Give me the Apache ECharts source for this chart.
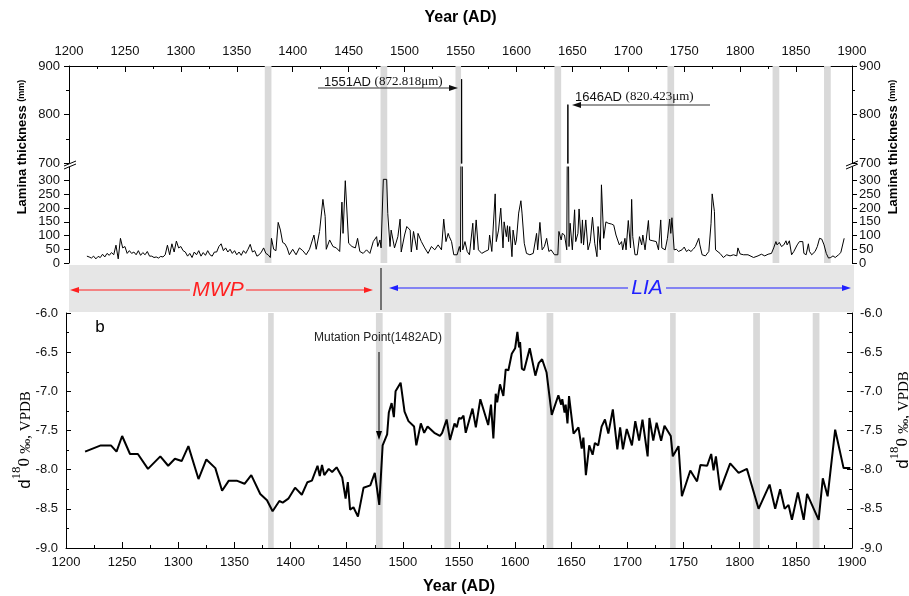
<!DOCTYPE html>
<html>
<head>
<meta charset="utf-8">
<script src="https://cdn.jsdelivr.net/npm/echarts@6/dist/echarts.min.js"></script>
<style>
html, body { margin: 0; padding: 0; background: #fff; }
#chart { width: 909px; height: 596px; }
</style>
</head>
<body>
<div id="chart"></div>
<script>
// lamina thickness (um) by year AD
const laminaYears = [
  1216, 1218, 1220, 1222, 1224, 1226, 1228, 1230, 1232, 1234, 1236, 1238, 1240, 1242, 1244, 1246, 1248, 1250,
  1252, 1254, 1256, 1258, 1260, 1262, 1264, 1266, 1268, 1270, 1272, 1274, 1276, 1278, 1280, 1282, 1284, 1286,
  1288, 1290, 1292, 1294, 1296, 1298, 1300, 1302, 1304, 1306, 1308, 1310, 1312, 1314, 1316, 1318, 1320, 1322,
  1324, 1326, 1328, 1330, 1332, 1334, 1336, 1338, 1340, 1342, 1344, 1346, 1348, 1350, 1352, 1354, 1356, 1358,
  1360, 1362, 1364, 1366, 1368, 1370, 1372, 1374, 1376, 1378, 1380, 1381, 1383, 1385, 1387, 1389, 1391, 1393,
  1395, 1397, 1400, 1403, 1406, 1409, 1412, 1415, 1419, 1421, 1424, 1427, 1429, 1430, 1433, 1436, 1439, 1442,
  1444, 1445, 1447, 1450, 1453, 1456, 1458, 1460, 1463, 1466, 1469, 1472, 1475, 1476, 1478, 1479, 1481, 1484,
  1485, 1487, 1488, 1491, 1494, 1496, 1497, 1500, 1502, 1505, 1506, 1508, 1511, 1512, 1515, 1518, 1521, 1524,
  1527, 1530, 1533, 1535, 1537, 1539, 1540, 1542, 1544, 1547, 1549, 1550, 1551, 1552, 1554, 1556, 1558, 1561,
  1562, 1564, 1566, 1569, 1572, 1575, 1576, 1578, 1581, 1582, 1584, 1586, 1588, 1589, 1591, 1592, 1593, 1594,
  1596, 1597, 1599, 1600, 1602, 1604, 1605, 1607, 1609, 1612, 1615, 1618, 1619, 1621, 1623, 1625, 1627, 1629,
  1631, 1634, 1637, 1638, 1640, 1641, 1643, 1645, 1646, 1647, 1648, 1650, 1652, 1653, 1655, 1656, 1658, 1659,
  1660, 1662, 1664, 1666, 1668, 1670, 1672, 1673, 1675, 1676, 1678, 1680, 1682, 1685, 1687, 1689, 1692, 1694,
  1695, 1697, 1698, 1700, 1702, 1703, 1704, 1706, 1708, 1710, 1712, 1713, 1715, 1716, 1718, 1719, 1722, 1725,
  1727, 1729, 1730, 1733, 1735, 1737, 1738, 1739, 1741, 1743, 1745, 1748, 1750, 1752, 1754, 1756, 1758, 1760,
  1763, 1764, 1766, 1769, 1772, 1774, 1775, 1777, 1778, 1782, 1785, 1788, 1791, 1794, 1797, 1798, 1800, 1803,
  1807, 1812, 1816, 1819, 1822, 1825, 1828, 1830, 1832, 1833, 1835, 1837, 1839, 1841, 1842, 1844, 1846, 1848,
  1851, 1853, 1854, 1856, 1857, 1859, 1861, 1862, 1864, 1867, 1869, 1871, 1873, 1875, 1877, 1879, 1881, 1883,
  1885, 1888, 1890, 1891, 1893
];
const laminaValues = [
  25, 22, 18, 25, 15, 24, 20, 32, 22, 35, 28, 38, 30, 65, 15, 90, 55, 60,
  35, 45, 35, 40, 30, 45, 28, 38, 30, 42, 25, 25, 20, 22, 18, 24, 22, 30,
  65, 30, 70, 40, 80, 55, 60, 45, 40, 25, 35, 20, 40, 30, 45, 25, 38, 28,
  45, 30, 25, 40, 40, 60, 70, 45, 55, 40, 50, 35, 45, 30, 40, 28, 45, 35,
  50, 68, 40, 45, 25, 30, 40, 55, 35, 30, 20, 90, 50, 45, 148, 120, 75, 70,
  55, 30, 50, 30, 55, 45, 30, 50, 102, 50, 115, 232, 170, 50, 84, 60, 55, 42,
  222, 108, 300, 72, 60, 55, 90, 42, 35, 48, 35, 78, 96, 60, 84, 55, 305, 305,
  180, 60, 120, 55, 96, 160, 40, 102, 133, 120, 40, 115, 48, 108, 78, 55, 35, 60,
  48, 66, 48, 160, 78, 108, 96, 78, 30, 30, 60, 40, 872.818, 48, 78, 42, 30, 145,
  48, 157, 48, 35, 42, 48, 102, 42, 252, 78, 120, 200, 55, 150, 96, 136, 78, 133,
  23, 120, 66, 84, 182, 227, 182, 72, 35, 30, 35, 108, 48, 148, 48, 60, 90, 42,
  48, 30, 30, 115, 84, 108, 102, 48, 820.423, 60, 145, 48, 194, 78, 108, 197, 72, 157,
  66, 157, 48, 78, 167, 72, 23, 133, 48, 285, 90, 150, 145, 142, 138, 102, 66, 78,
  48, 90, 48, 155, 55, 232, 96, 30, 30, 96, 66, 102, 48, 84, 155, 84, 81, 78,
  48, 157, 55, 48, 90, 160, 108, 165, 48, 50, 42, 48, 58, 42, 48, 42, 50, 60,
  90, 66, 30, 26, 42, 145, 252, 188, 48, 35, 20, 30, 26, 30, 26, 55, 33, 30,
  30, 20, 26, 32, 26, 32, 35, 55, 78, 66, 75, 60, 66, 81, 66, 81, 30, 42,
  66, 78, 72, 78, 35, 30, 70, 42, 30, 42, 60, 90, 87, 66, 35, 18, 20, 26,
  20, 30, 38, 35, 90
];

// d18O (permil, VPDB) by year AD
const isoYears = [
  1217, 1231, 1240, 1245, 1250, 1257, 1264, 1273, 1284, 1291, 1297, 1303, 1309, 1318, 1325, 1333, 1339, 1345,
  1352, 1359, 1365, 1373, 1379, 1384, 1390, 1393, 1398, 1404, 1410, 1415, 1419, 1424, 1426, 1428, 1430, 1434,
  1437, 1441, 1446, 1447.5, 1449, 1451, 1453, 1456, 1460, 1465, 1471, 1475, 1479, 1482, 1484, 1486, 1487.5, 1490,
  1492, 1493.5, 1498, 1501.5, 1503, 1505, 1510, 1512, 1516, 1519, 1522, 1528, 1533, 1535, 1539, 1542, 1546, 1548,
  1550, 1552, 1554, 1556, 1562, 1565, 1569, 1576, 1578.5, 1580.6, 1582.7, 1584, 1586.5, 1589.5, 1591.6, 1594, 1597, 1600,
  1602, 1603.5, 1604.4, 1606, 1608, 1613, 1618, 1621, 1624, 1628, 1632.6, 1638.5, 1641, 1642, 1644, 1645, 1646.6, 1648,
  1652, 1656.4, 1659.3, 1660.8, 1663, 1666, 1669, 1671, 1674, 1677, 1680, 1683, 1687, 1691, 1693.5, 1696, 1699.4, 1704,
  1707, 1710.4, 1713.4, 1718, 1719.6, 1723, 1726, 1730, 1733, 1738.6, 1740.4, 1745.5, 1748.5, 1756, 1762, 1765, 1771, 1774.6,
  1776.7, 1778.8, 1782.6, 1791.5, 1799, 1806.4, 1816.8, 1826.6, 1831.6, 1836, 1840, 1843.5, 1846.5, 1851.8, 1857, 1860, 1870.3, 1874,
  1878.3, 1885, 1892.5, 1898.5
];
const isoValues = [
  -7.77, -7.69, -7.69, -7.77, -7.57, -7.80, -7.80, -7.99, -7.83, -7.95, -7.86, -7.89, -7.70, -8.12, -7.87, -7.98, -8.27, -8.14,
  -8.14, -8.18, -8.07, -8.31, -8.39, -8.53, -8.40, -8.42, -8.37, -8.23, -8.32, -8.16, -8.14, -7.95, -8.08, -7.94, -8.07, -7.99,
  -8.03, -7.97, -8.10, -8.12, -8.37, -8.16, -8.51, -8.48, -8.60, -8.23, -8.20, -8.04, -8.45, -7.69, -7.62, -7.55, -7.27, -7.15,
  -7.33, -7.00, -6.89, -7.26, -7.27, -7.38, -7.45, -7.69, -7.41, -7.53, -7.45, -7.53, -7.57, -7.53, -7.36, -7.62, -7.41, -7.46,
  -7.34, -7.35, -7.31, -7.53, -7.22, -7.46, -7.10, -7.43, -7.17, -7.60, -7.03, -7.14, -6.91, -7.06, -6.72, -6.73, -6.52, -6.45,
  -6.24, -6.44, -6.37, -6.71, -6.73, -6.45, -6.80, -6.64, -6.59, -6.76, -7.30, -7.05, -7.17, -7.10, -7.27, -7.17, -7.41, -7.06,
  -7.54, -7.46, -7.73, -7.59, -8.07, -7.69, -7.81, -7.66, -7.69, -7.45, -7.36, -7.54, -7.23, -7.74, -7.46, -7.74, -7.48, -7.69,
  -7.38, -7.63, -7.36, -7.83, -7.34, -7.63, -7.40, -7.63, -7.44, -7.57, -7.83, -7.70, -8.34, -8.01, -8.15, -7.94, -7.95, -7.80,
  -8.01, -7.83, -8.26, -7.92, -8.04, -7.99, -8.50, -8.19, -8.50, -8.25, -8.50, -8.45, -8.64, -8.29, -8.64, -8.31, -8.64, -8.11,
  -8.34, -7.49, -7.98, -7.98
];

// shaded year intervals
const topBands = [[1375, 1381], [1478.5, 1484.5], [1545.5, 1550.5], [1634, 1640], [1735, 1741], [1829, 1835], [1875, 1881]];
const bottomBands = [[1380, 1385], [1476, 1482], [1537, 1543], [1628, 1634], [1738, 1743], [1812, 1818], [1865, 1871]];

const sans = "Arial, 'Liberation Sans', sans-serif";
const serif = "'Times New Roman', 'Liberation Serif', serif";

const laminaData = laminaYears.map((y, i) => [y, laminaValues[i]]);
const isoData = isoYears.map((y, i) => [y, isoValues[i]]);

const bandArea = (bands) => ({
  silent: true,
  itemStyle: { color: "#d9d9d9" },
  data: bands.map((b) => [{ xAxis: b[0] }, { xAxis: b[1] }]),
});

const yearAxis = (gridIndex, position, extra) =>
  Object.assign(
    {
      type: "value",
      gridIndex: gridIndex,
      position: position,
      min: 1200,
      max: 1900,
      interval: 50,
      axisLine: { lineStyle: { color: "#000", width: 1 } },
      axisTick: { inside: true, length: 6, lineStyle: { color: "#000" } },
      minorTick: { show: true, splitNumber: 2, length: 3, lineStyle: { color: "#000" } },
      axisLabel: { fontFamily: sans, fontSize: 13, color: "#111", margin: 8, formatter: (v) => String(v) },
      splitLine: { show: false },
    },
    extra
  );

const valueAxis = (gridIndex, position, min, max, interval, inside, extra) =>
  Object.assign(
    {
      type: "value",
      gridIndex: gridIndex,
      position: position,
      min: min,
      max: max,
      interval: interval,
      axisLine: { show: true, onZero: false, lineStyle: { color: "#000", width: 1 } },
      axisTick: { show: true, inside: inside, length: 5, lineStyle: { color: "#000" } },
      minorTick: { show: true, splitNumber: 2, length: 3, lineStyle: { color: "#000" } },
      axisLabel: { fontFamily: sans, fontSize: 13, color: "#111", margin: 7 },
      splitLine: { show: false },
    },
    extra
  );

const arrowHead = (tx, ty, dir, color) => {
  // small triangle pointing in dir: 'l','r','d'
  let pts;
  if (dir === "r") pts = [[tx, ty], [tx - 9, ty - 3], [tx - 9, ty + 3]];
  else if (dir === "l") pts = [[tx, ty], [tx + 9, ty - 3], [tx + 9, ty + 3]];
  else pts = [[tx, ty], [tx - 3, ty - 9], [tx + 3, ty - 9]];
  return { type: "polygon", shape: { points: pts }, style: { fill: color }, z: 20 };
};
const seg = (x1, y1, x2, y2, color, w) => ({
  type: "line",
  shape: { x1: x1, y1: y1, x2: x2, y2: y2 },
  style: { stroke: color, lineWidth: w || 1 },
  z: 20,
});

const isoTitle = {
  text: "{a|d}{s|18}{b|0 }{c|‰, VPDB}",
  textAlign: "center",
  textVerticalAlign: "middle",
  rich: {
    a: { fontFamily: sans, fontSize: 17, fill: "#000", verticalAlign: "bottom" },
    s: { fontFamily: serif, fontSize: 13, fill: "#000", verticalAlign: "bottom", padding: [0, 0, 10, 0] },
    b: { fontFamily: serif, fontSize: 17, fill: "#000", verticalAlign: "bottom" },
    c: { fontFamily: serif, fontSize: 15, fill: "#000", verticalAlign: "bottom" },
  },
};
const laminaTitle = {
  text: "{a|Lamina thickness }{u|(mm)}",
  textAlign: "center",
  textVerticalAlign: "middle",
  rich: {
    a: { fontFamily: sans, fontSize: 13, fontWeight: "bold", fill: "#000" },
    u: { fontFamily: sans, fontSize: 9, fontWeight: "bold", fill: "#000" },
  },
};

const chart = echarts.init(document.getElementById("chart"));

const option = {
  animation: false,
  backgroundColor: "#fff",
  grid: [
    { left: 69, right: 57, top: 66, height: 97 },
    { left: 69, right: 57, top: 167, height: 96 },
    { left: 66, right: 57, top: 313, height: 239 },
    { left: 69, right: 57, top: 163, height: 4 },
  ],
  xAxis: [
    yearAxis(0, "top", {
      name: "Year (AD)",
      nameLocation: "middle",
      nameGap: 40,
      nameTextStyle: { fontFamily: sans, fontSize: 16, fontWeight: "bold", color: "#000" },
    }),
    yearAxis(1, "bottom", { show: false }),
    yearAxis(2, "bottom", {
      name: "Year (AD)",
      nameLocation: "middle",
      nameGap: 31,
      nameTextStyle: { fontFamily: sans, fontSize: 16, fontWeight: "bold", color: "#000" },
    }),
    yearAxis(3, "bottom", { show: false }),
  ],
  yAxis: [
    valueAxis(0, "left", 700, 900, 100, false, { axisLabel: { fontFamily: sans, fontSize: 13, color: "#111", margin: 9 } }),
    valueAxis(0, "right", 700, 900, 100, false),
    valueAxis(1, "left", 0, 350, 50, false, {
      minorTick: { show: false },
      axisLabel: { fontFamily: sans, fontSize: 13, color: "#111", margin: 9, showMaxLabel: false },
    }),
    valueAxis(1, "right", 0, 350, 50, false, {
      minorTick: { show: false },
      axisLabel: { fontFamily: sans, fontSize: 13, color: "#111", margin: 7, showMaxLabel: false },
    }),
    valueAxis(2, "left", -9, -6, 0.5, true, {
      axisLabel: { fontFamily: sans, fontSize: 13, color: "#111", margin: 8, formatter: (v) => v.toFixed(1) },
    }),
    valueAxis(2, "right", -9, -6, 0.5, true, {
      axisLabel: { fontFamily: sans, fontSize: 13, color: "#111", margin: 8, formatter: (v) => v.toFixed(1) },
    }),
    { type: "value", gridIndex: 3, min: 350, max: 700, show: false },
  ],
  series: [
    {
      type: "line",
      xAxisIndex: 0,
      yAxisIndex: 0,
      data: laminaData,
      showSymbol: false,
      clip: true,
      lineStyle: { color: "#000", width: 1 },
      markArea: bandArea(topBands),
    },
    {
      type: "line",
      xAxisIndex: 1,
      yAxisIndex: 2,
      data: laminaData,
      showSymbol: false,
      clip: true,
      lineStyle: { color: "#000", width: 1 },
      markArea: bandArea(topBands),
    },
    {
      // axis break strip: line hidden, only the shaded bands continue
      type: "line",
      xAxisIndex: 3,
      yAxisIndex: 6,
      data: laminaData,
      showSymbol: false,
      clip: true,
      lineStyle: { opacity: 0 },
      markArea: bandArea(topBands),
    },
    {
      type: "line",
      xAxisIndex: 2,
      yAxisIndex: 4,
      data: isoData,
      showSymbol: false,
      clip: true,
      lineStyle: { color: "#000", width: 2 },
      markArea: bandArea(bottomBands),
    },
  ],
  graphic: [
    // MWP / LIA band
    { type: "rect", shape: { x: 69, y: 265, width: 785, height: 47 }, style: { fill: "#e6e6e6" }, z: 5 },
    seg(381, 268, 381, 310, "#000", 1),
    seg(74, 290, 190, 290, "#ff2020", 1),
    seg(246, 290, 366, 290, "#ff2020", 1),
    arrowHead(70, 290, "l", "#ff2020"),
    arrowHead(373, 290, "r", "#ff2020"),
    {
      type: "text",
      z: 20,
      style: { text: "MWP", x: 218, y: 290, font: "italic 21px " + sans, fill: "#ff2020", textAlign: "center", textVerticalAlign: "middle" },
    },
    seg(393, 288, 628, 288, "#2020ff", 1),
    seg(666, 288, 846, 288, "#2020ff", 1),
    arrowHead(389, 288, "l", "#2020ff"),
    arrowHead(851, 288, "r", "#2020ff"),
    {
      type: "text",
      z: 20,
      style: { text: "LIA", x: 647, y: 288, font: "italic 21px " + sans, fill: "#2020ff", textAlign: "center", textVerticalAlign: "middle" },
    },
    // axis break marks
    seg(64, 166, 76, 161, "#000", 1),
    seg(64, 169, 76, 164, "#000", 1),
    seg(846, 166, 858, 161, "#000", 1),
    seg(846, 169, 858, 164, "#000", 1),
    // spike annotations
    {
      type: "text",
      z: 20,
      style: {
        text: "{a|1551AD }{b|(872.818μm)}",
        x: 324,
        y: 82,
        textVerticalAlign: "middle",
        rich: { a: { fontFamily: sans, fontSize: 13, fill: "#111" }, b: { fontFamily: serif, fontSize: 13, fill: "#111" } },
      },
    },
    seg(318, 88, 452, 88, "#333", 1),
    arrowHead(458, 88, "r", "#111"),
    {
      type: "text",
      z: 20,
      style: {
        text: "{a|1646AD }{b|(820.423μm)}",
        x: 575,
        y: 97,
        textVerticalAlign: "middle",
        rich: { a: { fontFamily: sans, fontSize: 13, fill: "#111" }, b: { fontFamily: serif, fontSize: 13, fill: "#111" } },
      },
    },
    seg(578, 105, 710, 105, "#333", 1),
    arrowHead(572, 105, "l", "#111"),
    // mutation point
    {
      type: "text",
      z: 20,
      style: { text: "Mutation Point(1482AD)", x: 378, y: 338, font: "12px " + sans, fill: "#222", textAlign: "center", textVerticalAlign: "middle" },
    },
    seg(379, 352, 379, 432, "#000", 1),
    arrowHead(379, 440, "d", "#000"),
    {
      type: "text",
      z: 20,
      style: { text: "b", x: 100, y: 327, font: "17px " + sans, fill: "#000", textAlign: "center", textVerticalAlign: "middle" },
    },
    // y axis titles
    { type: "text", z: 20, x: 22, y: 147, rotation: Math.PI / 2, style: laminaTitle },
    { type: "text", z: 20, x: 893, y: 147, rotation: Math.PI / 2, style: laminaTitle },
    { type: "text", z: 20, x: 22, y: 440, rotation: Math.PI / 2, style: isoTitle },
    { type: "text", z: 20, x: 900, y: 420, rotation: Math.PI / 2, style: isoTitle },
  ],
};

chart.setOption(option);
window.addEventListener("resize", () => chart.resize());
</script>
</body>
</html>
